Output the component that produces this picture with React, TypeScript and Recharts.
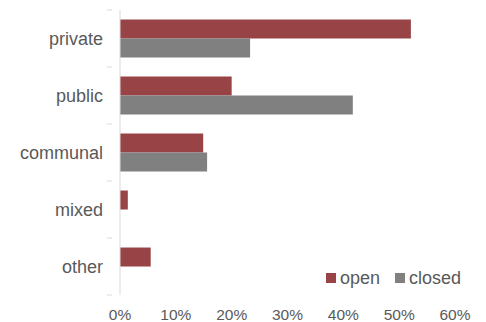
import { Bar, BarChart, XAxis, YAxis } from 'recharts'

const categories = ['private', 'public', 'communal', 'mixed', 'other']
const openShare = [0.521, 0.2, 0.149, 0.014, 0.055]
const closedShare = [0.233, 0.417, 0.156, 0, 0]
const xTicks = [0, 0.1, 0.2, 0.3, 0.4, 0.5, 0.6]

const series = [
  { key: 'open', color: '#984447' },
  { key: 'closed', color: '#808080' },
]

const data = categories.map((name, i) => ({
  name,
  open: openShare[i],
  closed: closedShare[i],
}))

const TEXT = '#595959'
const AXIS = '#d9d9d9'
const FONT = '"Liberation Sans", Arial, sans-serif'

const CHART_H = 314
const TOP = 2
const BOTTOM = 27
const band = (CHART_H - TOP - BOTTOM) / categories.length

function CategoryTick(props: any) {
  const { x, y, payload, index } = props
  const last = index === categories.length - 1
  return (
    <g>
      <text x={x - 9} y={y} dy="0.35em" textAnchor="end" fill={TEXT} fontSize={18} fontFamily={FONT}>
        {payload.value}
      </text>
      <line x1={x - 5} x2={x} y1={y - band / 2} y2={y - band / 2} stroke={AXIS} />
      {last && <line x1={x - 5} x2={x} y1={y + band / 2} y2={y + band / 2} stroke={AXIS} />}
    </g>
  )
}

export default function App() {
  return (
    <div style={{ position: 'relative', width: 478, height: CHART_H }}>
      <BarChart
        width={478}
        height={CHART_H}
        data={data}
        layout="vertical"
        margin={{ top: TOP, right: 31, bottom: 0, left: 0 }}
        barCategoryGap="16.7%"
        barGap={0}
      >
        <XAxis
          type="number"
          domain={[0, 0.6]}
          ticks={xTicks}
          tickFormatter={(v: number) => `${Math.round(v * 100)}%`}
          axisLine={false}
          tickLine={false}
          tickMargin={8}
          height={BOTTOM}
          tick={{ fill: TEXT, fontSize: 15.5, fontFamily: FONT }}
          interval={0}
        />
        <YAxis
          type="category"
          dataKey="name"
          width={112}
          axisLine={{ stroke: AXIS }}
          tickLine={false}
          tick={<CategoryTick />}
          interval={0}
        />
        {series.map((s) => (
          <Bar key={s.key} dataKey={s.key} name={s.key} fill={s.color} isAnimationActive={false} />
        ))}
      </BarChart>
      <div
        style={{
          position: 'absolute',
          left: 318,
          top: 258,
          display: 'flex',
          alignItems: 'center',
          fontFamily: FONT,
          fontSize: 18,
          color: TEXT,
          lineHeight: '24px',
        }}
      >
        {series.map((s) => (
          <div key={s.key} style={{ display: 'flex', alignItems: 'center', marginRight: 15 }}>
            <span style={{ width: 10, height: 10, background: s.color, marginRight: 4, display: 'inline-block' }} />
            <span>{s.key}</span>
          </div>
        ))}
      </div>
    </div>
  )
}
